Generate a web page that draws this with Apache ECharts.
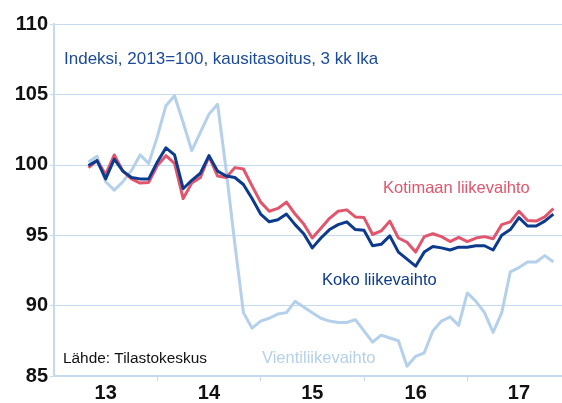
<!DOCTYPE html>
<html>
<head>
<meta charset="utf-8">
<script src="https://cdn.jsdelivr.net/npm/echarts@6/dist/echarts.min.js"></script>
<style>
html,body{margin:0;padding:0;background:#fff;}
#main{width:562px;height:403px;}
</style>
</head>
<body>
<div id="main"></div>
<script>
'use strict';

/**
 * data: monthly index, first value = month index 4 (2013)
 */
var yearLabels=['13','14','15','16','17'];
var startIndex=4;
var koko=[99.95,100.3,99.0,100.4,99.55,99.1,99.0,99.0,100.2,101.2,100.7,98.3,98.9,99.4,100.65,99.55,99.2,99.1,
    98.6,97.6,96.5,95.95,96.1,96.5,95.75,95.1,94.1,94.8,95.4,95.75,95.95,95.4,95.35,94.25,94.35,
    94.95,93.8,93.3,92.8,93.8,94.2,94.1,93.95,94.15,94.15,94.25,94.25,93.95,95.0,95.4,96.25,95.65,95.65,96.0,96.5];
var kotimaan=[99.8,100.3,99.3,100.7,99.55,99.0,98.7,98.75,99.95,100.65,100.1,97.6,98.7,99.1,100.6,99.2,99.1,99.8,
    99.7,98.5,97.35,96.7,96.9,97.35,96.5,95.8,94.8,95.5,96.2,96.7,96.8,96.3,96.25,95.05,95.3,
    96.0,94.8,94.5,93.8,94.9,95.1,94.9,94.55,94.85,94.55,94.8,94.9,94.75,95.75,95.95,96.7,96.05,96.0,96.3,96.9];
var vienti=[100.2,100.6,98.8,98.2,98.8,99.6,100.7,100.1,102.0,104.2,104.9,103.0,101.0,102.3,103.6,104.3,99.6,94.4,
    89.5,88.4,88.9,89.1,89.4,89.5,90.3,89.9,89.5,89.1,88.9,88.8,88.8,89.0,88.2,87.4,87.9,
    87.7,87.5,85.7,86.4,86.65,88.2,88.9,89.2,88.6,90.9,90.3,89.5,88.1,89.5,92.4,92.7,93.1,93.1,93.55,93.1];

var FONT='Arial, "Liberation Sans", sans-serif';
var AXIS_COLOR='#c5daee';

function $each(arr,fn){
    for(var i=0;i<arr.length;i++){fn(arr[i],i);}
}
function buildMonths(){
    var months=[];
    $each(yearLabels,function(y){
        for(var m=1;m<=12;m++){
            months.push(y+'/'+(m<10?'0'+m:m));
        }
    });
    return months;
}
function pad(values){
    var out=[];
    for(var i=0;i<startIndex;i++){out.push(null);}
    return out.concat(values);
}
function lineSeries(name,values,color,z){
    return {
        name:name,
        type:'line',
        data:pad(values),
        symbol:'none',
        z:z,
        lineStyle:{color:color,width:3,join:'round'},
        itemStyle:{color:color},
        animation:false
    };
}
function label(text,x,y,color,size){
    return {
        type:'text',
        left:x,
        top:y,
        style:{text:text,fill:color,font:(size||16.5)+'px '+FONT}
    };
}

var months=buildMonths();
var chart=echarts.init(document.getElementById('main'));
chart.setOption({
    animation:false,
    backgroundColor:'#fff',
    grid:{left:54,right:0,top:24,bottom:24,containLabel:false},
    xAxis:{
        type:'category',
        data:months,
        boundaryGap:false,
        axisLine:{lineStyle:{color:AXIS_COLOR,width:2}},
        axisTick:{
            inside:false,length:5,
            lineStyle:{color:AXIS_COLOR,width:1},
            interval:function(i){return i>0 && i%12===0;}
        },
        axisLabel:{
            interval:function(i){return i%12===6;},
            formatter:function(v){return v.split('/')[0];},
            color:'#111',fontSize:20,fontWeight:'bold',fontFamily:FONT,margin:7
        },
        splitLine:{show:false}
    },
    yAxis:{
        type:'value',
        min:85,max:110,interval:5,
        axisLine:{show:true,lineStyle:{color:AXIS_COLOR,width:2}},
        axisTick:{show:true,length:4,lineStyle:{color:AXIS_COLOR}},
        axisLabel:{color:'#111',fontSize:20,fontWeight:'bold',fontFamily:FONT,margin:6},
        splitLine:{lineStyle:{color:AXIS_COLOR,width:1}}
    },
    series:[
        lineSeries('Vientiliikevaihto',vienti,'#b5d0ea',2),
        lineSeries('Kotimaan liikevaihto',kotimaan,'#e1566c',3),
        lineSeries('Koko liikevaihto',koko,'#0c3a8c',4)
    ],
    graphic:[
        label('Indeksi, 2013=100, kausitasoitus, 3 kk lka',64,51,'#1c4a9a',17),
        label('Kotimaan liikevaihto',383,180,'#e1566c'),
        label('Koko liikevaihto',322,272,'#0c3a8c'),
        label('Vientiliikevaihto',262,350,'#b5d0ea'),
        label('Lähde: Tilastokeskus',63,351,'#111',15.4)
    ]
});
</script>
</body>
</html>
